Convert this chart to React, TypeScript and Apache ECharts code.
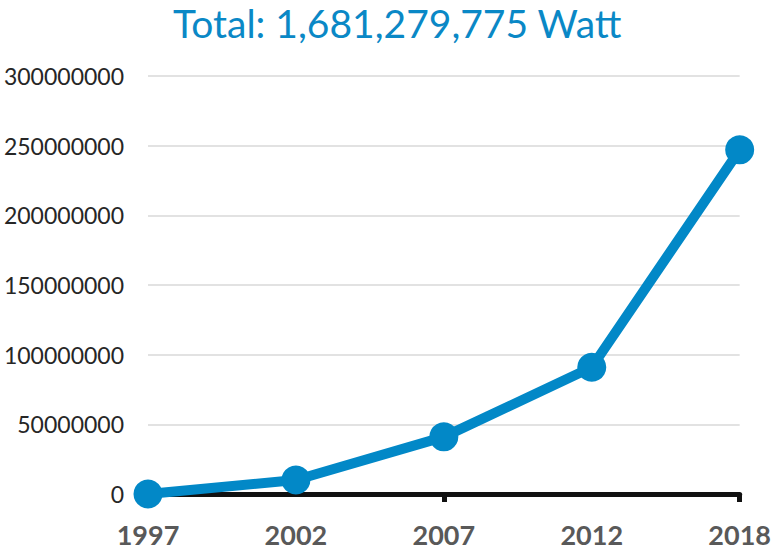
import React, { useEffect, useRef } from "react";
import * as echarts from "echarts";

const titleText = "Total: 1,681,279,775 Watt";
const years = ["1997", "2002", "2007", "2012", "2018"];
const watts = [0, 10000000, 41000000, 91000000, 247000000];
const yMax = 300000000;
const yInterval = 50000000;

export default function App() {
  const ref = useRef<HTMLDivElement>(null);
  useEffect(() => {
    if (!ref.current) return;
    const chart = echarts.init(ref.current, undefined, { renderer: "svg" });
    chart.setOption({
      animation: false,
      backgroundColor: "#ffffff",
      title: {
        text: titleText,
        left: 173,
        top: 3,
        padding: 0,
        textStyle: {
          fontFamily: "Lato",
          fontWeight: "normal",
          fontSize: 39,
          color: "#0a88c6",
        },
      },
      grid: { left: 148, right: 32, top: 76, bottom: 56, containLabel: false },
      xAxis: {
        type: "category",
        data: years,
        boundaryGap: false,
        axisLine: { lineStyle: { color: "#111111", width: 5 } },
        axisTick: { show: true, interval: 1, length: 8, lineStyle: { color: "#111111", width: 5 } },
        axisLabel: {
          margin: 27,
          fontFamily: "Lato",
          fontWeight: "bold",
          fontSize: 27,
          color: "#595959",
        },
        splitLine: { show: false },
      },
      yAxis: {
        type: "value",
        min: 0,
        max: yMax,
        interval: yInterval,
        axisLine: { show: false },
        axisTick: { show: false },
        axisLabel: {
          margin: 24,
          fontFamily: "Lato",
          fontSize: 23,
          color: "#262626",
          formatter: (v: number) => String(v),
        },
        splitLine: { lineStyle: { color: "#d9d9d9", width: 1.5 } },
      },
      series: [
        {
          type: "line",
          data: watts,
          symbol: "circle",
          symbolSize: 29,
          lineStyle: { color: "#0288c7", width: 10 },
          itemStyle: { color: "#0288c7" },
          z: 5,
        },
      ],
    });
    return () => chart.dispose();
  }, []);
  return (
    <div
      ref={ref}
      style={{ position: "fixed", left: 0, top: 0, width: 774, height: 550 }}
    />
  );
}
